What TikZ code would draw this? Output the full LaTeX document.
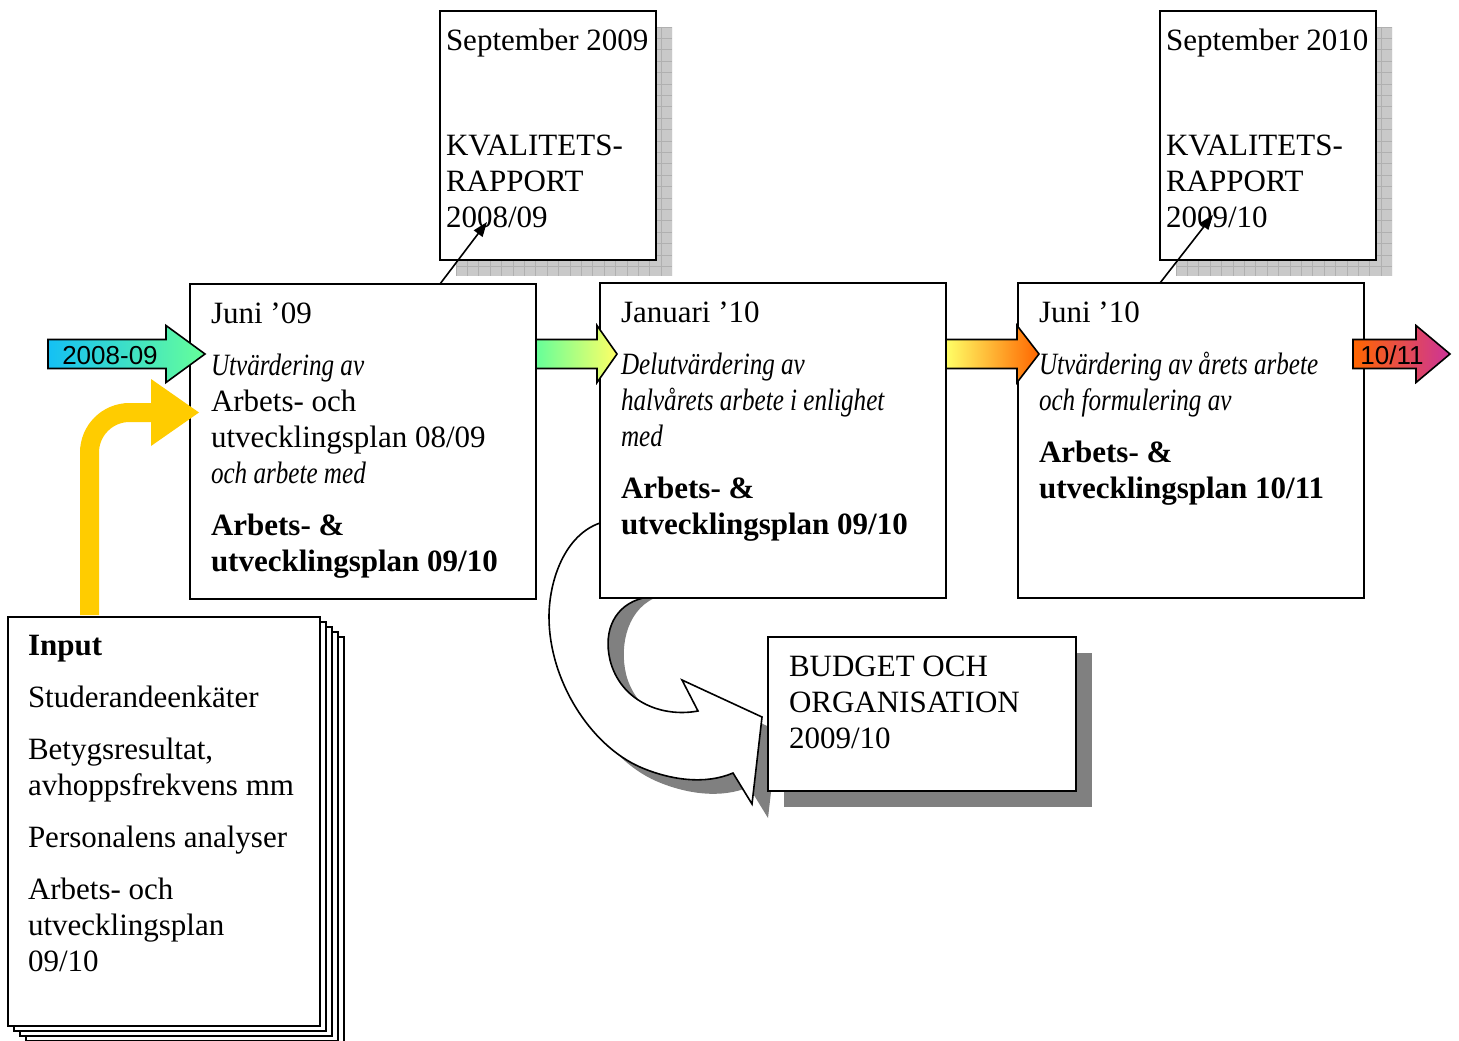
\documentclass[tikz,border=0pt]{standalone}
\usepackage{fontspec}
\setmainfont{Liberation Serif}
\newfontfamily\garit{Liberation Serif}[FakeStretch=0.81]
\newfontfamily\lsans{Liberation Sans}
\usetikzlibrary{arrows.meta}
\definecolor{cyanA}{HTML}{14C0F4}
\definecolor{mint}{HTML}{66FF99}
\definecolor{lyel}{HTML}{FFFF66}
\definecolor{orng}{HTML}{FF6600}
\definecolor{magn}{HTML}{CC3399}
\definecolor{yel}{HTML}{FFCC00}
\definecolor{shgray}{HTML}{808080}
\newcommand{\uarrowpath}{(600,523) .. controls (565,535) and (549,580) .. (549,617) .. controls (549,680) and (590,745) .. (640,767) .. controls (670,780) and (705,785) .. (733,773) -- (752,804) -- (762,717) -- (682,680) -- (698,711) .. controls (660,718) and (620,700) .. (610,660) .. controls (603,630) and (615,605) .. (643,598) -- (600,598) -- cycle}
\newcommand{\ushadowpath}{(616,537) .. controls (581,549) and (565,594) .. (565,631) .. controls (565,694) and (606,759) .. (656,781) .. controls (686,794) and (721,799) .. (749,787) -- (768,818) -- (778,731) -- (698,694) -- (714,725) .. controls (676,732) and (636,714) .. (626,674) .. controls (619,644) and (628,606) .. (660,596) -- (616,596) -- cycle}
\begin{document}
\begin{tikzpicture}[x=0.75pt,y=-0.75pt,
  box/.style={draw, line width=1.4pt, fill=white, inner sep=0pt, outer sep=0pt, anchor=north west},
  txt/.style={anchor=north west, inner sep=0pt, outer sep=0pt, align=left, font=\fontsize{23.25}{27}\selectfont},
  lbl/.style={anchor=base, inner sep=0pt, font=\lsans\fontsize{19.5}{22}\selectfont},
  grad/.style={line width=1.2pt, draw=black},
  conn/.style={line width=1.2pt, -{Triangle[length=11pt,width=8pt]}}
]
\useasboundingbox (0,0) rectangle (1459,1041);
\fill[white] (0,0) rectangle (1459,1041);

% report shadows (grid)
\foreach \sx in {456,1176}{
  \begin{scope}
    \clip (\sx,27) rectangle ++(216,249);
    \fill[gray!42] (\sx,27) rectangle ++(216,249);
    \foreach \i in {0,...,19}{\draw[gray!62, line width=0.5pt] (\sx+\i*11.4,27) -- ++(0,249);}
    \foreach \j in {0,...,22}{\draw[gray!62, line width=0.5pt] (\sx,27+\j*11.4) -- ++(216,0);}
  \end{scope}
}
\node[box, minimum width=162pt, minimum height=186.75pt] (rep1) at (440,11) {};
\node[box, minimum width=162pt, minimum height=186.75pt] (rep2) at (1160,11) {};

% U-turn arrow with shadow
\fill[shgray] \ushadowpath;
\filldraw[fill=white, draw=black, line width=1.2pt] \uarrowpath;

% budget box
\fill[shgray] (784,653) rectangle (1092,807);
\node[box, minimum width=231pt, minimum height=115.5pt] (budget) at (768,637) {};

% main boxes
\node[box, minimum width=259.5pt, minimum height=236.25pt] (boxA) at (190,284) {};
\node[box, minimum width=259.5pt, minimum height=236.25pt] (boxB) at (600,283) {};
\node[box, minimum width=259.5pt, minimum height=236.25pt] (boxC) at (1018,283) {};

% yellow input arrow
\draw[yel, line width=14.25pt, rounded corners=30pt] (89.5,615) -- (89.5,412.5) -- (152,412.5);
\fill[yel] (151,379) -- (199,412.5) -- (151,446) -- cycle;

% document stack
\foreach \k in {4,3,2,1}{
  \node[box, line width=1.3pt, minimum width=234pt, minimum height=306.75pt] (page\k) at (8+6*\k,617+5*\k) {};
}
\node[box, line width=1.3pt, minimum width=234pt, minimum height=306.75pt] (input) at (8,617) {};

% gradient arrows
\shadedraw[grad, left color=cyanA, right color=mint] (48,339.5) -- (166,339.5) -- (166,325.5) -- (205,354) -- (166,382.5) -- (166,368.5) -- (48,368.5) -- cycle;
\shadedraw[grad, left color=mint, right color=lyel] (536,339.5) -- (597,339.5) -- (597,325.5) -- (617,354) -- (597,382.5) -- (597,368.5) -- (536,368.5) -- cycle;
\shadedraw[grad, left color=lyel, right color=orng] (946,339.5) -- (1017,339.5) -- (1017,325.5) -- (1039,354) -- (1017,382.5) -- (1017,368.5) -- (946,368.5) -- cycle;
\shadedraw[grad, left color=orng, right color=magn] (1353,339.5) -- (1416,339.5) -- (1416,325.5) -- (1450,354) -- (1416,382.5) -- (1416,368.5) -- (1353,368.5) -- cycle;
\node[lbl] (l0809) at (110,364.5) {2008-09};
\node[lbl] (l1011) at (1392,364.5) {10/11};

% connectors to the reports
\coordinate (c1s) at (440,284);
\coordinate (c1e) at (487,222);
\coordinate (c2s) at (1160,283);
\coordinate (c2e) at (1213,215);
\draw[conn] (c1s) -- (c1e);
\draw[conn] (c2s) -- (c2e);

% texts
\node[txt] (trep1) at (446,24.3) {\rule{0pt}{20pt}September 2009\\[51.75pt]KVALITETS-\\RAPPORT\\2008/09};
\node[txt] (trep2) at (1166,24.3) {\rule{0pt}{20pt}September 2010\\[51.75pt]KVALITETS-\\RAPPORT\\2009/10};

\node[txt] (tA) at (211,297.3) {\rule{0pt}{20pt}Juni ’09\\[11.5pt]
{\garit\itshape Utvärdering av}\\
Arbets- och\\
utvecklingsplan 08/09\\
{\garit\itshape och arbete med}\\[12.5pt]
\textbf{Arbets- \&}\\
\textbf{utvecklingsplan 09/10}};

\node[txt] (tB) at (621,296.3) {\rule{0pt}{20pt}Januari ’10\\[12pt]
{\garit\itshape Delutvärdering av}\\
{\garit\itshape halvårets arbete i enlighet}\\
{\garit\itshape med}\\[12pt]
\textbf{Arbets- \&}\\
\textbf{utvecklingsplan 09/10}};

\node[txt] (tC) at (1039,296.3) {\rule{0pt}{20pt}Juni ’10\\[12pt]
{\garit\itshape Utvärdering av årets arbete}\\
{\garit\itshape och formulering av}\\[12pt]
\textbf{Arbets- \&}\\
\textbf{utvecklingsplan 10/11}};

\node[txt] (tbud) at (789,650.3) {\rule{0pt}{20pt}BUDGET OCH\\ORGANISATION\\2009/10};

\node[txt] (tin) at (28,629.3) {\rule{0pt}{20pt}\textbf{Input}\\[12pt]
Studerandeenkäter\\[12pt]
Betygsresultat,\\
avhoppsfrekvens mm\\[12pt]
Personalens analyser\\[12pt]
Arbets- och\\
utvecklingsplan\\
09/10};
\end{tikzpicture}
\end{document}
